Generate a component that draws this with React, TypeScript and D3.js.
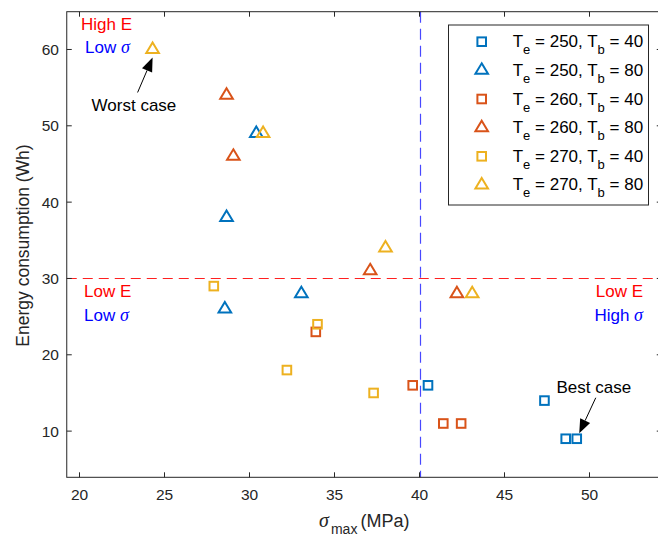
import React from 'react';
import * as d3 from 'd3';

// Series: T_e / T_b combinations, sigma_max (MPa) vs energy consumption (Wh)
const seriesTe = ['250', '250', '260', '260', '270', '270'];
const seriesTb = ['40', '80', '40', '80', '40', '80'];
const seriesMarker = ['square', 'triangle', 'square', 'triangle', 'square', 'triangle'];
const seriesColor = ['#0072BD', '#0072BD', '#D95319', '#D95319', '#EDB120', '#EDB120'];

const sigma250_40 = [40.5, 47.35, 48.6, 49.25];
const energy250_40 = [16, 14, 9, 9];
const sigma250_80 = [30.4, 28.65, 33.05, 28.55];
const energy250_80 = [49, 38, 28, 26];
const sigma260_40 = [33.9, 39.6, 41.4, 42.45];
const energy260_40 = [23, 16, 11, 11];
const sigma260_80 = [28.65, 29.05, 37.1, 42.2];
const energy260_80 = [54, 46, 31, 28];
const sigma270_40 = [27.9, 34.0, 32.2, 37.3];
const energy270_40 = [29, 24, 18, 15];
const sigma270_80 = [24.3, 30.8, 38.0, 43.1];
const energy270_80 = [60, 49, 34, 28];

const seriesSigma = [sigma250_40, sigma250_80, sigma260_40, sigma260_80, sigma270_40, sigma270_80];
const seriesEnergy = [energy250_40, energy250_80, energy260_40, energy260_80, energy270_40, energy270_80];

const xTicks = [20, 25, 30, 35, 40, 45, 50];
const yTicks = [10, 20, 30, 40, 50, 60];
const energyLimit = 30;
const sigmaLimit = 40;

// Annotated extremes
const worstCase = { sigma: 24.3, energy: 60 };
const bestCase = { sigma: 49.25, energy: 9 };

const FONT = '"Liberation Sans", Arial, Helvetica, sans-serif';
const SERIF = '"Liberation Serif", "Times New Roman", serif';
const AXIS = '#262626';

const W = 658;
const H = 540;
const plot = { left: 66.75, right: 661.75, top: 11.7, bottom: 477.3 };

const x = d3.scaleLinear().domain([19.25, 54.25]).range([plot.left, plot.right]);
const y = d3.scaleLinear().domain([3.95, 64.95]).range([plot.bottom, plot.top]);

function Marker({ kind, cx, cy, color }: { kind: string; cx: number; cy: number; color: string }) {
  if (kind === 'square') {
    const s = 8.6;
    return (
      <rect x={cx - s / 2} y={cy - s / 2} width={s} height={s} fill="none" stroke={color} strokeWidth={2} />
    );
  }
  // triangle centred on its centroid
  const h = 10.5;
  const w = 6.3;
  const d = `M${cx},${cy - (2 * h) / 3} L${cx + w},${cy + h / 3} L${cx - w},${cy + h / 3} Z`;
  return <path d={d} fill="none" stroke={color} strokeWidth={2} strokeLinejoin="miter" />;
}

function Arrow({ x1, y1, x2, y2 }: { x1: number; y1: number; x2: number; y2: number }) {
  const ang = Math.atan2(y2 - y1, x2 - x1);
  const len = 14;
  const half = 5.5;
  const bx = x2 - len * Math.cos(ang);
  const by = y2 - len * Math.sin(ang);
  const px = -Math.sin(ang) * half;
  const py = Math.cos(ang) * half;
  return (
    <g>
      <line x1={x1} y1={y1} x2={bx} y2={by} stroke="#000" strokeWidth={1} />
      <path d={`M${x2},${y2} L${bx + px},${by + py} L${bx - px},${by - py} Z`} fill="#000" />
    </g>
  );
}

export default function App() {
  const tickLen = 5;
  const legend = { x: 448.5, y: 25, w: 200, h: 180 };
  const rowH = 28.65;
  const wx = x(worstCase.sigma);
  const wy = y(worstCase.energy);
  const bx = x(bestCase.sigma);
  const by = y(bestCase.energy);
  const vx = Math.round(x(sigmaLimit)) + 0.5;
  const hy = Math.round(y(energyLimit)) + 0.5;

  return (
    <svg
      width={W}
      height={H}
      style={{ position: 'absolute', left: 0, top: 0, background: '#fff' }}
      fontFamily={FONT}
    >
      <rect x={0} y={0} width={W} height={H} fill="#fff" />

      {/* threshold lines */}
      <line
        x1={plot.left}
        x2={plot.right}
        y1={hy}
        y2={hy}
        stroke="#FF2020"
        strokeWidth={1}
        strokeDasharray="10,6"
      />
      <line
        x1={vx}
        x2={vx}
        y1={plot.top}
        y2={plot.bottom}
        stroke="#4848FF"
        strokeWidth={1.2}
        strokeDasharray="11,6"
      />

      {/* quadrant labels */}
      <text x={81} y={30} fontSize={17} fill="#FF0000">High E</text>
      <text x={85} y={53} fontSize={17} fill="#0000FF">
        Low <tspan fontFamily={SERIF} fontStyle="italic" fontSize={18}>σ</tspan>
      </text>
      <text x={84} y={297} fontSize={17} fill="#FF0000">Low E</text>
      <text x={84} y={321} fontSize={17} fill="#0000FF">
        Low <tspan fontFamily={SERIF} fontStyle="italic" fontSize={18}>σ</tspan>
      </text>
      <text x={643} y={297} fontSize={17} fill="#FF0000" textAnchor="end">Low E</text>
      <text x={643} y={321} fontSize={17} fill="#0000FF" textAnchor="end">
        High <tspan fontFamily={SERIF} fontStyle="italic" fontSize={18}>σ</tspan>
      </text>

      {/* markers */}
      {seriesSigma.map((sx, si) =>
        sx.map((s, i) => (
          <Marker
            key={`${si}-${i}`}
            kind={seriesMarker[si]}
            cx={x(s)}
            cy={y(seriesEnergy[si][i])}
            color={seriesColor[si]}
          />
        ))
      )}

      {/* annotations */}
      <Arrow x1={wx - 15} y1={wy + 43} x2={wx} y2={wy + 8} />
      <text x={wx - 61} y={111} fontSize={17} fill="#000">Worst case</text>
      <Arrow x1={bx + 19} y1={by - 41} x2={bx + 2.5} y2={by - 5.5} />
      <text x={556.5} y={393} fontSize={17} fill="#000">Best case</text>

      {/* axes box */}
      <rect
        x={plot.left}
        y={plot.top}
        width={plot.right - plot.left}
        height={plot.bottom - plot.top}
        fill="none"
        stroke={AXIS}
        strokeWidth={1}
      />
      {xTicks.map((t) => (
        <g key={`xt${t}`}>
          <line x1={x(t)} x2={x(t)} y1={plot.bottom} y2={plot.bottom - tickLen} stroke={AXIS} />
          <line x1={x(t)} x2={x(t)} y1={plot.top} y2={plot.top + tickLen} stroke={AXIS} />
          <text x={x(t)} y={500} fontSize={15.5} fill={AXIS} textAnchor="middle">{t}</text>
        </g>
      ))}
      {yTicks.map((t) => (
        <g key={`yt${t}`}>
          <line x1={plot.left} x2={plot.left + tickLen} y1={y(t)} y2={y(t)} stroke={AXIS} />
          <line x1={plot.right} x2={plot.right - tickLen} y1={y(t)} y2={y(t)} stroke={AXIS} />
          <text x={59} y={y(t) + 5.5} fontSize={15.5} fill={AXIS} textAnchor="end">{t}</text>
        </g>
      ))}

      {/* axis titles */}
      <text x={(plot.left + plot.right) / 2} y={527} fontSize={18} fill={AXIS} textAnchor="middle">
        <tspan fontFamily={SERIF} fontStyle="italic" fontSize={20}>σ</tspan>
        <tspan fontSize={14} dx={2} dy={7}>max</tspan>
        <tspan dx={3} dy={-7}>(MPa)</tspan>
      </text>
      <text
        transform={`translate(29,${(plot.top + plot.bottom) / 2 + 1}) rotate(-90)`}
        fontSize={17.5}
        fill={AXIS}
        textAnchor="middle"
      >
        Energy consumption (Wh)
      </text>

      {/* legend */}
      <rect x={legend.x} y={legend.y} width={legend.w} height={legend.h} fill="#fff" stroke={AXIS} strokeWidth={1} />
      {seriesTe.map((te, i) => {
        const cy = legend.y + 16.7 + i * rowH;
        return (
          <g key={`lg${i}`}>
            <Marker kind={seriesMarker[i]} cx={481.7} cy={cy} color={seriesColor[i]} />
            <text x={512.7} y={cy + 5.5} fontSize={17} fill="#000">
              T<tspan fontSize={13} dy={7}>e</tspan>
              <tspan dy={-7}>{` = ${te}, T`}</tspan>
              <tspan fontSize={13} dy={7}>b</tspan>
              <tspan dy={-7}>{` = ${seriesTb[i]}`}</tspan>
            </text>
          </g>
        );
      })}
    </svg>
  );
}
